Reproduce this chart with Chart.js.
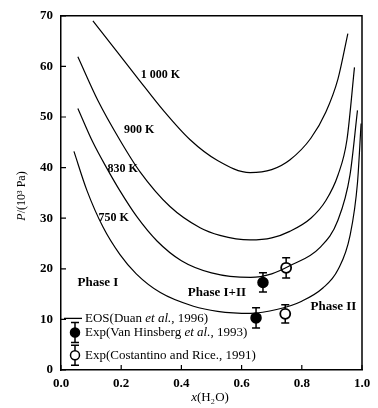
<!DOCTYPE html>
<html>
<head>
<meta charset="utf-8">
<script src="https://cdn.jsdelivr.net/npm/chart.js@4.4.1/dist/chart.umd.min.js"></script>
<style>
  html, body { margin: 0; padding: 0; background: #fff; }
  #wrap { width: 378px; height: 408px; }
</style>
</head>
<body>
<div id="wrap"><canvas id="grafico"></canvas></div>
<script>
// EOS isotherms (Duan et al., 1996)
const x1000 = [0.106, 0.186, 0.252, 0.34, 0.429, 0.52, 0.628, 0.70, 0.76, 0.83, 0.88, 0.92, 0.953];
const p1000 = [69.0, 62.9, 57.9, 51.3, 45.5, 41.4, 39.0, 39.6, 41.5, 45.8, 51.0, 57.5, 66.5];

const x900 = [0.056, 0.123, 0.196, 0.262, 0.362, 0.462, 0.528, 0.628, 0.70, 0.76, 0.83, 0.88, 0.92, 0.95, 0.975];
const p900 = [61.9, 53.2, 45.4, 39.2, 32.3, 28.1, 26.6, 25.7, 26.1, 27.4, 30.0, 33.5, 38.5, 45.5, 59.8];

const x830 = [0.056, 0.106, 0.153, 0.196, 0.252, 0.319, 0.40, 0.50, 0.63, 0.70, 0.76, 0.86, 0.92, 0.96, 0.985];
const p830 = [51.7, 45.0, 39.8, 35.4, 30.3, 25.5, 21.6, 19.2, 18.3, 19.0, 20.6, 24.2, 29.6, 38.5, 51.3];

const x750 = [0.043, 0.086, 0.14, 0.196, 0.25, 0.33, 0.44, 0.52, 0.63, 0.72, 0.80, 0.87, 0.92, 0.96, 0.985, 0.997];
const p750 = [43.2, 35.5, 28.2, 22.8, 19.0, 15.3, 12.6, 11.6, 11.2, 12.0, 13.6, 16.2, 19.8, 26.5, 37.0, 48.7];

const etiquetas = ["1 000 K", "900 K", "830 K", "750 K"];

// Experimental points
const vhX = [0.671, 0.648];
const vhP = [17.3, 10.3];
const vhErr = [1.9, 2.0];

const ctX = [0.748, 0.745];
const ctP = [20.2, 11.1];
const ctErr = [2.0, 1.8];

const xTicks = [0, 0.2, 0.4, 0.6, 0.8, 1.0];
const yTicks = [0, 10, 20, 30, 40, 50, 60, 70];

const serif = "'Liberation Serif', 'DejaVu Serif', serif";

const puntos = (xs, ys) => xs.map((v, i) => ({ x: v, y: ys[i] }));

const curva = (xs, ys) => ({
    type: "line",
    data: puntos(xs, ys),
    borderColor: "#000",
    borderWidth: 1.2,
    pointRadius: 0,
    fill: false,
    cubicInterpolationMode: "monotone",
});

function barras(ctx, xs, ys, errs, sx, sy) {
    ctx.save();
    ctx.strokeStyle = "#000";
    ctx.lineWidth = 1.5;
    xs.forEach((v, i) => {
        const px = sx.getPixelForValue(v);
        const top = sy.getPixelForValue(ys[i] + errs[i]);
        const bot = sy.getPixelForValue(ys[i] - errs[i]);
        ctx.beginPath();
        ctx.moveTo(px, top);
        ctx.lineTo(px, bot);
        ctx.moveTo(px - 4, top);
        ctx.lineTo(px + 4, top);
        ctx.moveTo(px - 4, bot);
        ctx.lineTo(px + 4, bot);
        ctx.stroke();
    });
    ctx.restore();
}

function texto(ctx, partes, x, y) {
    // partes: [[text, font], ...] drawn left to right
    let cx = x;
    partes.forEach(([t, f]) => {
        ctx.font = f;
        ctx.fillText(t, cx, y);
        cx += ctx.measureText(t).width;
    });
    return cx - x;
}

function ancho(ctx, partes) {
    let w = 0;
    partes.forEach(([t, f]) => {
        ctx.font = f;
        w += ctx.measureText(t).width;
    });
    return w;
}

const decor = {
    id: "decor",
    beforeDatasetsDraw(chart) {
        const { ctx, scales: { x, y } } = chart;
        barras(ctx, vhX, vhP, vhErr, x, y);
        barras(ctx, ctX, ctP, ctErr, x, y);
    },
    afterDatasetsDraw(chart) {
        const { ctx, chartArea: a, scales: { x, y } } = chart;
        ctx.save();
        ctx.strokeStyle = "#000";
        ctx.lineWidth = 1.5;
        // top and right frame
        ctx.beginPath();
        ctx.moveTo(a.left, a.top);
        ctx.lineTo(a.right, a.top);
        ctx.lineTo(a.right, a.bottom);
        ctx.stroke();
        // inward ticks
        ctx.lineWidth = 1.2;
        ctx.beginPath();
        xTicks.forEach((v) => {
            const px = x.getPixelForValue(v);
            ctx.moveTo(px, a.bottom);
            ctx.lineTo(px, a.bottom - 5);
        });
        yTicks.forEach((v) => {
            const py = y.getPixelForValue(v);
            ctx.moveTo(a.left, py);
            ctx.lineTo(a.left + 5, py);
        });
        ctx.stroke();

        ctx.fillStyle = "#000";
        ctx.textBaseline = "middle";
        ctx.textAlign = "center";
        // isotherm labels
        ctx.font = "bold 12px " + serif;
        const posEtiq = [[0.33, 58.4], [0.26, 47.4], [0.205, 39.8], [0.175, 30.0]];
        etiquetas.forEach((t, i) => {
            ctx.fillText(t, x.getPixelForValue(posEtiq[i][0]), y.getPixelForValue(posEtiq[i][1]));
        });
        // phase labels
        ctx.font = "bold 13px " + serif;
        ctx.fillText("Phase I", x.getPixelForValue(0.123), y.getPixelForValue(17.3));
        ctx.fillText("Phase I+II", x.getPixelForValue(0.518), y.getPixelForValue(15.2));
        ctx.fillText("Phase II", x.getPixelForValue(0.905), y.getPixelForValue(12.6));

        // legend
        ctx.textAlign = "left";
        const lx = a.left + 14;
        const tx = a.left + 24;
        const norm = "13px " + serif;
        const ital = "italic 13px " + serif;
        const y1 = y.getPixelForValue(10.2);
        const y2 = y.getPixelForValue(7.4);
        const y3 = y.getPixelForValue(2.9);
        ctx.lineWidth = 1.3;
        ctx.beginPath();
        ctx.moveTo(a.left + 3, y1);
        ctx.lineTo(a.left + 21, y1);
        ctx.stroke();
        texto(ctx, [["EOS(Duan ", norm], ["et al.", ital], [", 1996)", norm]], tx, y1);
        texto(ctx, [["Exp(Van Hinsberg ", norm], ["et al.", ital], [", 1993)", norm]], tx, y2);
        texto(ctx, [["Exp(Costantino and Rice., 1991)", norm]], tx, y3);
        [[y2, true], [y3, false]].forEach(([py, lleno]) => {
            ctx.lineWidth = 1.5;
            ctx.beginPath();
            ctx.moveTo(lx, py - 10);
            ctx.lineTo(lx, py + 10);
            ctx.moveTo(lx - 4, py - 10);
            ctx.lineTo(lx + 4, py - 10);
            ctx.moveTo(lx - 4, py + 10);
            ctx.lineTo(lx + 4, py + 10);
            ctx.stroke();
            ctx.beginPath();
            ctx.arc(lx, py, 4.5, 0, Math.PI * 2);
            ctx.fillStyle = lleno ? "#000" : "#fff";
            ctx.fill();
            ctx.stroke();
            ctx.fillStyle = "#000";
        });

        // axis titles
        const t12 = "12px " + serif;
        const i12 = "italic 12px " + serif;
        const yTitulo = [["P", i12], ["/(10³ Pa)", t12]];
        ctx.save();
        ctx.translate(22, 196);
        ctx.rotate(-Math.PI / 2);
        texto(ctx, yTitulo, -ancho(ctx, yTitulo) / 2, 0);
        ctx.restore();

        const t13 = "13px " + serif;
        const i13 = "italic 13px " + serif;
        const xTitulo = [["x", i13], ["(H₂O)", t13]];
        texto(ctx, xTitulo, 210 - ancho(ctx, xTitulo) / 2, 398);
        ctx.restore();
    },
};

const dataGrafico = {
    datasets: [
        curva(x1000, p1000),
        curva(x900, p900),
        curva(x830, p830),
        curva(x750, p750),
        {
            type: "scatter",
            data: puntos(vhX, vhP),
            pointRadius: 5,
            pointBackgroundColor: "#000",
            pointBorderColor: "#000",
            pointBorderWidth: 1.5,
        },
        {
            type: "scatter",
            data: puntos(ctX, ctP),
            pointRadius: 5,
            pointBackgroundColor: "#fff",
            pointBorderColor: "#000",
            pointBorderWidth: 1.8,
        },
    ],
};

const configGrafico = {
    type: "scatter",
    data: dataGrafico,
    options: {
        responsive: true,
        maintainAspectRatio: false,
        animation: false,
        layout: { padding: { top: 15, right: 16, left: 0, bottom: 0 } },
        plugins: {
            legend: { display: false },
            tooltip: { enabled: false },
        },
        scales: {
            x: {
                type: "linear",
                min: 0,
                max: 1,
                afterBuildTicks: (s) => { s.ticks = xTicks.map((v) => ({ value: v })); },
                afterFit: (s) => { s.height = 38; },
                grid: { display: false, drawTicks: false },
                border: { display: true, color: "#000", width: 1.5 },
                ticks: {
                    color: "#000",
                    padding: 6,
                    font: { family: serif, size: 13, weight: "bold" },
                    callback: (v) => v.toFixed(1),
                },
            },
            y: {
                type: "linear",
                min: 0,
                max: 70,
                afterBuildTicks: (s) => { s.ticks = yTicks.map((v) => ({ value: v })); },
                afterFit: (s) => { s.width = 61; },
                grid: { display: false, drawTicks: false },
                border: { display: true, color: "#000", width: 1.5 },
                ticks: {
                    color: "#000",
                    padding: 8,
                    font: { family: serif, size: 13, weight: "bold" },
                },
            },
        },
    },
    plugins: [decor],
};

const chartGrafico = new Chart(document.getElementById("grafico"), configGrafico);
</script>
</body>
</html>
